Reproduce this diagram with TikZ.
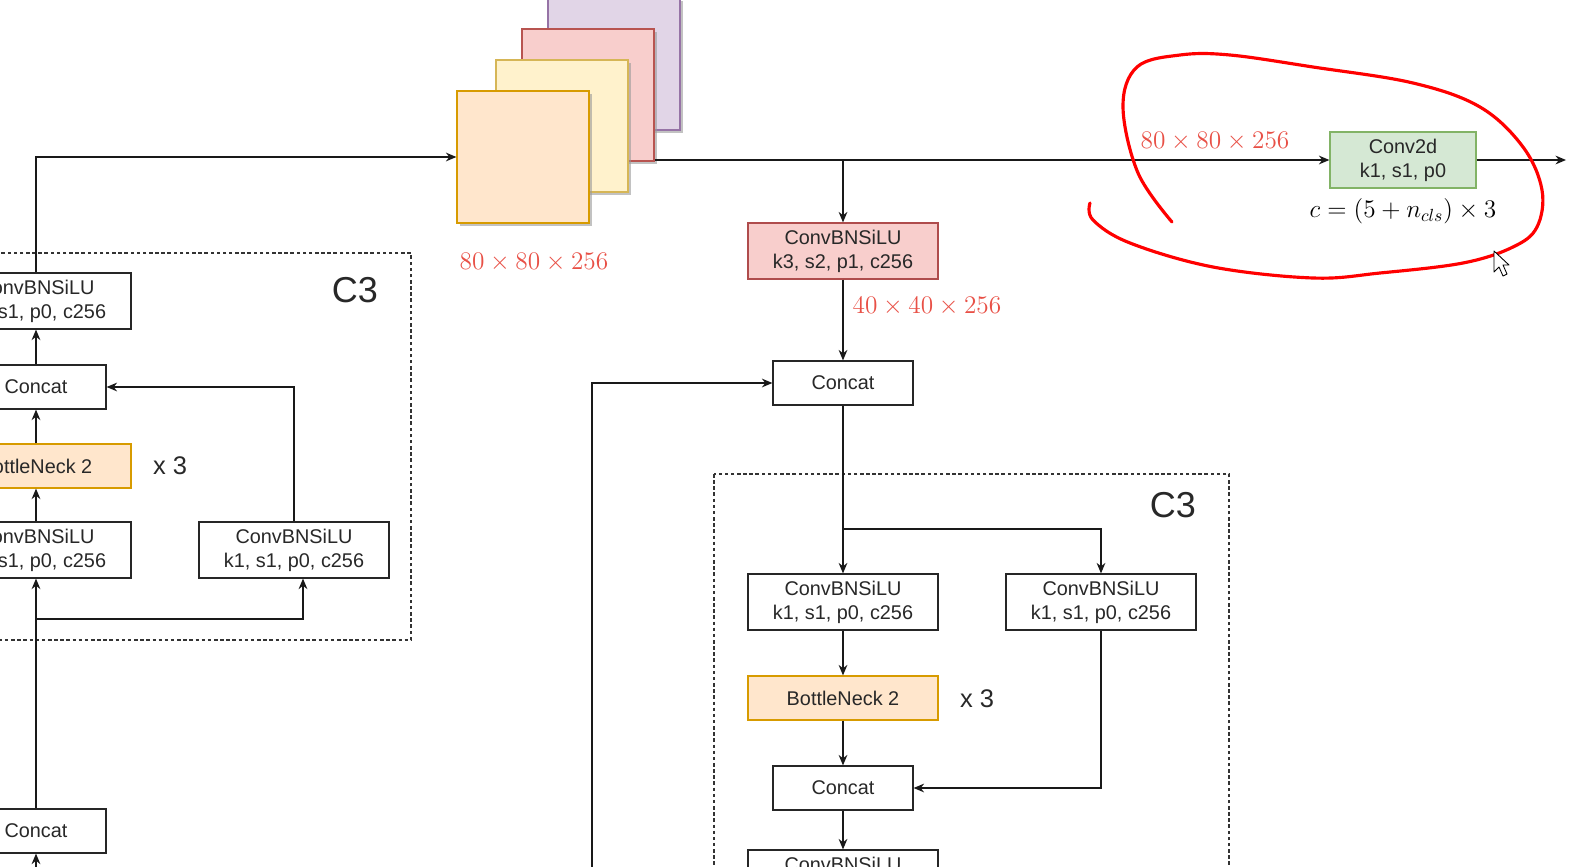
\documentclass[tikz,border=0pt]{standalone}
\usepackage{fontspec}
\usepackage{tikz}
\usetikzlibrary{arrows.meta, positioning, shapes, shadows}
\newfontfamily\boxfont{Liberation Sans}
\definecolor{dimred}{RGB}{232,80,70}
\definecolor{txtgray}{RGB}{40,40,40}

\begin{document}
\begin{tikzpicture}[x=0.02cm, y=-0.02cm,
    every node/.style={align=center, inner sep=0pt, text=txtgray},
    conv/.style={draw=black!85, fill=white, rectangle, line width=0.7pt,
                 minimum width=3.8cm, minimum height=1.12cm,
                 font=\boxfont\fontsize{11.3}{13.6}\selectfont},
    convs/.style={conv, draw=red!55!black!70, fill={rgb,255:red,248;green,206;blue,204}},
    cat/.style={conv, minimum width=2.8cm, minimum height=0.88cm},
    bneck/.style={conv, minimum height=0.88cm, draw={rgb,255:red,215;green,155;blue,0},
                  fill={rgb,255:red,255;green,230;blue,204}},
    head/.style={conv, minimum width=2.92cm, draw={rgb,255:red,130;green,179;blue,102},
                 fill={rgb,255:red,213;green,232;blue,212}},
    fmap/.style={draw, rectangle, minimum size=2.64cm, line width=0.7pt,
                 drop shadow={shadow xshift=0.06cm, shadow yshift=-0.06cm, fill=black!40, opacity=0.6}},
    dim/.style={text=dimred, font=\fontsize{14}{16}\selectfont},
    rep/.style={font=\boxfont\fontsize{14.5}{16}\selectfont},
    block/.style={font=\boxfont\fontsize{20.5}{22}\selectfont},
    frame/.style={draw=black!80, dash pattern=on 2pt off 1.5pt, line width=0.6pt},
    arr/.style={-{Stealth[length=6pt, width=5pt]}, line width=0.7pt, draw=black!90},
    pen/.style={draw=red, line width=1.8pt, line cap=round, line join=round}
]
\useasboundingbox (0,0) rectangle (1572,866);
\clip (0,0) rectangle (1572,866);

\draw[frame] (-100,253) rectangle (411,640);
\draw[frame] (714,474) rectangle (1229,950);
\node[block] (c3l) at (355,290)  {C3};
\node[block] (c3r) at (1173,505) {C3};

\node[fmap, draw={rgb,255:red,150;green,115;blue,166}, fill={rgb,255:red,225;green,213;blue,231}] (fmP) at (614,64)  {};
\node[fmap, draw={rgb,255:red,184;green,84;blue,80},   fill={rgb,255:red,248;green,206;blue,204}] (fmR) at (588,95)  {};
\node[fmap, draw={rgb,255:red,214;green,182;blue,86},  fill={rgb,255:red,255;green,242;blue,204}] (fmY) at (562,126) {};
\node[fmap, draw={rgb,255:red,215;green,155;blue,0},   fill={rgb,255:red,255;green,230;blue,204}] (fmO) at (523,157) {};
\node[dim] (dimO) at (534,262) {$80\times80\times256$};

\node[conv]  (lconvA) at (36,301)  {ConvBNSiLU\\k1, s1, p0, c256};
\node[cat]   (lcatA)  at (36,387)  {Concat};
\node[bneck] (lbn)    at (36,466)  {BottleNeck 2};
\node[rep]   (lrep)   at (170,466) {x 3};
\node[conv]  (lconvB) at (36,550)  {ConvBNSiLU\\k1, s1, p0, c256};
\node[conv]  (lconvC) at (294,550) {ConvBNSiLU\\k1, s1, p0, c256};
\node[cat]   (lcatB)  at (36,831)  {Concat};
\coordinate (lsplit) at (36,619);
\coordinate (lbelow) at (36,900);

\node[head] (conv2d) at (1403,160) {Conv2d\\k1, s1, p0};
\node[dim]  (dimH)   at (1215,141) {$80\times80\times256$};
\node[text=black, font=\fontsize{14}{16}\selectfont] (ncls) at (1403,211) {$c=(5+n_{cls})\times3$};
\coordinate (outp) at (1566,160);

\node[convs] (rconvS) at (843,251) {ConvBNSiLU\\k3, s2, p1, c256};
\node[dim]   (dimS)   at (927,306) {$40\times40\times256$};
\node[cat]   (rcatA)  at (843,383) {Concat};
\node[conv]  (rconvA) at (843,602) {ConvBNSiLU\\k1, s1, p0, c256};
\node[conv]  (rconvB) at (1101,602) {ConvBNSiLU\\k1, s1, p0, c256};
\node[bneck] (rbn)    at (843,698) {BottleNeck 2};
\node[rep]   (rrep)   at (977,699) {x 3};
\node[cat]   (rcatB)  at (843,788) {Concat};
\node[conv]  (rconvC) at (843,878) {ConvBNSiLU\\k1, s1, p0, c256};
\coordinate (rsplit) at (843,529);
\coordinate (rbelow) at (592,900);

\draw[arr] (lbelow) -- (lcatB);
\draw[arr] (lcatB) -- (lconvB);
\draw[arr] (lsplit) -| ([xshift=0.18cm]lconvC.south);
\draw[arr] (lconvB) -- (lbn);
\draw[arr] (lbn) -- (lcatA);
\draw[arr] (lconvC.north) |- (lcatA.east);
\draw[arr] (lcatA) -- (lconvA);
\draw[arr] (lconvA.north) |- (fmO.west);

\draw[arr] (fmR.east |- conv2d) -- (conv2d);
\draw[arr] (conv2d) -- (outp);
\draw[arr] (rconvS.north |- conv2d) -- (rconvS);
\draw[arr] (rconvS) -- (rcatA);
\draw[arr] (rbelow) |- (rcatA.west);
\draw[arr] (rcatA) -- (rconvA);
\draw[arr] (rsplit) -| (rconvB);
\draw[arr] (rconvA) -- (rbn);
\draw[arr] (rbn) -- (rcatB);
\draw[arr] (rconvB.south) |- (rcatB.east);
\draw[arr] (rcatB) -- (rconvC);

\draw[pen] plot[smooth, tension=0.6] coordinates {(1172,222) (1138,173) (1123,107) (1137,67) (1180,55)
  (1230,55) (1313,67) (1413,83) (1480,107) (1523,147) (1542,190) (1537,227) (1513,247)
  (1463,263) (1380,273) (1313,278) (1213,267) (1130,243) (1093,220) (1090,203)};

\draw[fill=white, line width=0.5pt, line join=round] (1494,251) -- (1494,272) -- (1499,267)
  -- (1503,276) -- (1507,274) -- (1503,265) -- (1509,265) -- cycle;
\end{tikzpicture}
\end{document}
